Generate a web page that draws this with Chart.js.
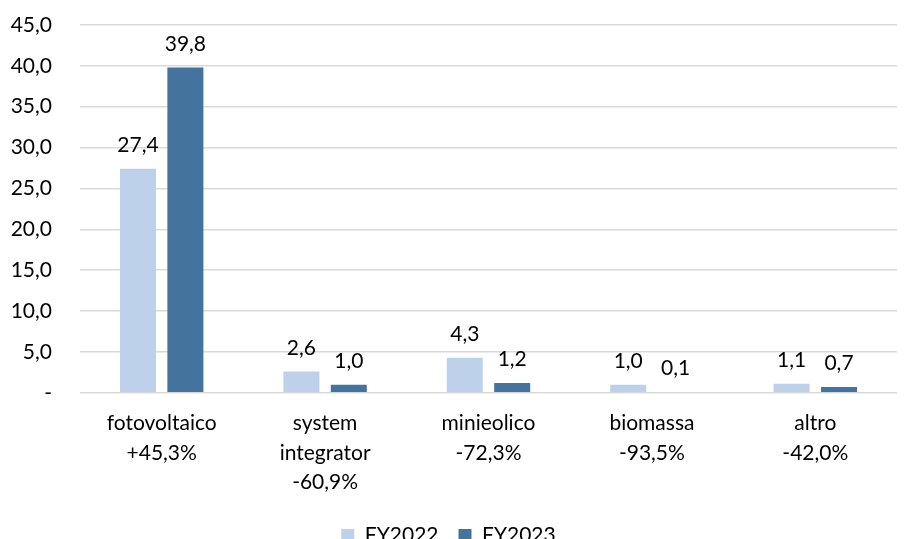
<!DOCTYPE html>
<html>
<head>
<meta charset="utf-8">
<script src="https://cdn.jsdelivr.net/npm/chart.js@4"></script>
<style>
  html, body { margin:0; padding:0; background:#fff; overflow:hidden; }
  .wrap { position:relative; width:905px; height:556px; }
</style>
</head>
<body>
<div class="wrap"><canvas id="chart"></canvas></div>
<script>
const categorie = [
  ['fotovoltaico', '+45,3%'],
  ['system', 'integrator', '-60,9%'],
  ['minieolico', '-72,3%'],
  ['biomassa', '-93,5%'],
  ['altro', '-42,0%']
];
const fy2022 = [27.4, 2.6, 4.3, 1.0, 1.1];
const fy2023 = [39.8, 1.0, 1.2, 0.1, 0.7];
const serie = ['FY2022', 'FY2023'];
const yMax = 45;
const yStep = 5;

const fmt = v => v === 0 ? '-' : v.toFixed(1).replace('.', ',');
const FONT = 'Lato, "Open Sans", sans-serif';
const SIZE = 21;

// etichette dati sopra le barre
const etichette = {
  id: 'etichette',
  afterDatasetsDraw(chart) {
    const ctx = chart.ctx;
    ctx.save();
    ctx.font = SIZE + 'px ' + FONT;
    ctx.fillStyle = '#000';
    ctx.textAlign = 'center';
    ctx.textBaseline = 'bottom';
    chart.data.datasets.forEach((ds, i) => {
      chart.getDatasetMeta(i).data.forEach((bar, j) => {
        ctx.fillText(fmt(ds.data[j]), bar.x, bar.y - 13);
      });
    });
    ctx.restore();
  }
};

new Chart(document.getElementById('chart'), {
  type: 'bar',
  data: {
    labels: categorie,
    datasets: [
      { label: serie[0], data: fy2022, backgroundColor: '#bdd1ea' },
      { label: serie[1], data: fy2023, backgroundColor: '#44739e' }
    ]
  },
  options: {
    responsive: true, maintainAspectRatio: false, animation: false,
    layout: { padding: { top: 25, right: 8, left: 0, bottom: 0 } },
    datasets: { bar: { categoryPercentage: 0.58, barPercentage: 0.76 } },
    plugins: {
      legend: {
        position: 'bottom',
        labels: { boxWidth: 13, boxHeight: 13, padding: 20, color: '#000', font: { family: FONT, size: SIZE } }
      },
      tooltip: { enabled: false }
    },
    scales: {
      x: {
        grid: { display: false },
        border: { display: false },
        afterFit: s => { s.paddingTop = 0; s.paddingBottom = 0; },
        ticks: { color: '#000', font: { family: FONT, size: SIZE, lineHeight: 1.4 }, padding: 8, maxRotation: 0, autoSkip: false }
      },
      y: {
        min: 0, max: yMax,
        grid: { color: '#d9d9d9', lineWidth: 1.5, drawTicks: false },
        border: { display: false },
        afterFit: s => { s.width = 80; s.paddingTop = 0; s.paddingBottom = 0; },
        ticks: { stepSize: yStep, color: '#000', padding: 28, font: { family: FONT, size: SIZE }, callback: v => fmt(v) }
      }
    }
  },
  plugins: [etichette]
});
</script>
</body>
</html>
